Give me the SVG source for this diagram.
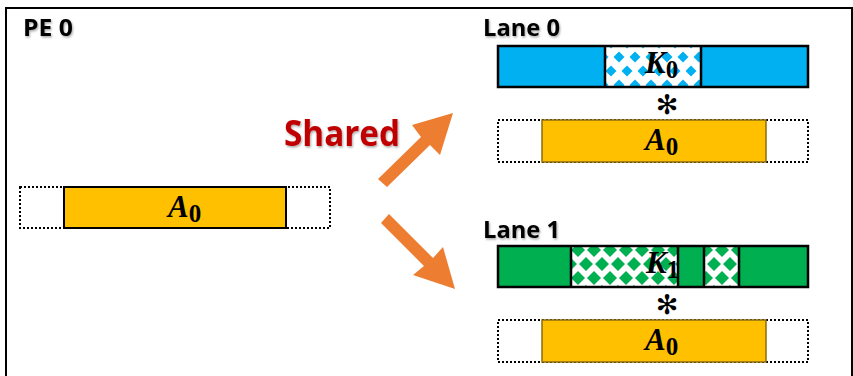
<svg xmlns="http://www.w3.org/2000/svg" width="853" height="376" viewBox="0 0 853 376">
  <style>
    .label { font-family: "Open Sans", "Liberation Sans", sans-serif; font-weight: bold; fill: #000; }
    .shared { font-family: "Open Sans", "Liberation Sans", sans-serif; font-weight: bold; fill: #C00000; }
    .math { font-family: "Liberation Serif", "DejaVu Serif", serif; font-weight: bold; font-style: italic; fill: #000; }
    .sub { font-style: normal; }
    .star { font-family: "DejaVu Sans", sans-serif; fill: #000; }
    .bar { stroke: #000; stroke-width: 2.5; }
    .slot { fill: none; stroke: #000; stroke-width: 2; stroke-dasharray: 2 2; }
    .a-main { fill: #FFC000; stroke: #000; stroke-width: 2; }
    .a-lane { fill: #FFC000; stroke: #8A6D10; stroke-width: 1.5; }
    .arrow { fill: #ED7D31; }
    .divider { stroke: #000; stroke-width: 2.5; }
  </style>
  <defs>
    <filter id="softShadow" x="-10%" y="-20%" width="130%" height="150%">
      <feDropShadow dx="1" dy="1.5" stdDeviation="1" flood-color="#000" flood-opacity="0.35"/>
    </filter>
    <!-- staggered diamond fills for the kernel slices -->
    <pattern id="dotsBlue" patternUnits="userSpaceOnUse" x="611" y="43" width="16" height="28">
      <rect width="16" height="28" fill="#fff"/>
      <path d="M8 8.5 L13.5 14 L8 19.5 L2.5 14 Z" fill="#00B0F0"/>
      <path d="M0 -5.5 L5.5 0 L0 5.5 L-5.5 0 Z M16 -5.5 L21.5 0 L16 5.5 L10.5 0 Z M0 22.5 L5.5 28 L0 33.5 L-5.5 28 Z M16 22.5 L21.5 28 L16 33.5 L10.5 28 Z" fill="#00B0F0"/>
    </pattern>
    <pattern id="dotsGreen" patternUnits="userSpaceOnUse" x="570" y="236" width="16" height="28">
      <rect width="16" height="28" fill="#fff"/>
      <path d="M8 7 L15 14 L8 21 L1 14 Z" fill="#00B050"/>
      <path d="M0 -7 L7 0 L0 7 L-7 0 Z M16 -7 L23 0 L16 7 L9 0 Z M0 21 L7 28 L0 35 L-7 28 Z M16 21 L23 28 L16 35 L9 28 Z" fill="#00B050"/>
    </pattern>
  </defs>

  <!-- processing element frame -->
  <rect x="6" y="8" width="846" height="380" fill="#fff" stroke="#000" stroke-width="2"/>

  <g id="pe-label">
    <text class="label" x="23" y="36" font-size="23" textLength="50" lengthAdjust="spacingAndGlyphs" filter="url(#softShadow)">PE 0</text>
  </g>

  <g id="source-a">
    <rect class="slot" x="20" y="187" width="310" height="41"/>
    <rect class="a-main" x="64" y="187" width="222" height="41"/>
    <text class="math" x="168" y="217" font-size="31">A<tspan class="sub" font-size="25" dy="5">0</tspan></text>
  </g>

  <g id="shared-label">
    <text class="shared" x="284" y="146" font-size="35" textLength="116" lengthAdjust="spacingAndGlyphs" filter="url(#softShadow)">Shared</text>
  </g>

  <g id="connectors">
    <!-- up-right arrow to lane 0 -->
    <polygon class="arrow" points="378,179 421,137 412,125 453,113 440,155 430,145 387,187"/>
    <!-- down-right arrow to lane 1 -->
    <polygon class="arrow" points="389,214 433,258 443,247 455,289 413,275 424,266 381,223"/>
  </g>

  <g id="lane0">
    <text class="label" x="483" y="36" font-size="23" textLength="77" lengthAdjust="spacingAndGlyphs" filter="url(#softShadow)">Lane 0</text>
    <rect x="498" y="46" width="310" height="41" fill="#00B0F0"/>
    <rect x="605" y="46" width="96" height="41" fill="url(#dotsBlue)"/>
    <rect class="bar" x="498" y="46" width="310" height="41" fill="none"/>
    <line class="divider" x1="605" y1="46" x2="605" y2="87"/>
    <line class="divider" x1="701" y1="46" x2="701" y2="87"/>
    <text class="math" x="645" y="73" font-size="31">K<tspan class="sub" font-size="25" dy="5">0</tspan></text>
    <text class="star" x="667" y="114" font-size="27" text-anchor="middle">✻</text>
    <rect class="slot" x="498" y="120" width="310" height="42"/>
    <rect class="a-lane" x="542" y="120" width="224" height="42"/>
    <text class="math" x="645" y="150" font-size="31">A<tspan class="sub" font-size="25" dy="5">0</tspan></text>
  </g>

  <g id="lane1">
    <text class="label" x="483" y="238" font-size="23" textLength="77" lengthAdjust="spacingAndGlyphs" filter="url(#softShadow)">Lane 1</text>
    <rect x="498" y="246" width="310" height="41" fill="#00B050"/>
    <rect x="571" y="246" width="107" height="41" fill="url(#dotsGreen)"/>
    <rect x="704" y="246" width="35" height="41" fill="url(#dotsGreen)"/>
    <rect class="bar" x="498" y="246" width="310" height="41" fill="none"/>
    <line class="divider" x1="571" y1="246" x2="571" y2="287"/>
    <line class="divider" x1="678" y1="246" x2="678" y2="287"/>
    <line class="divider" x1="704" y1="246" x2="704" y2="287"/>
    <line class="divider" x1="739" y1="246" x2="739" y2="287"/>
    <text class="math" x="646" y="273" font-size="31">K<tspan class="sub" font-size="25" dy="5">1</tspan></text>
    <text class="star" x="667" y="314" font-size="27" text-anchor="middle">✻</text>
    <rect class="slot" x="498" y="320" width="310" height="42"/>
    <rect class="a-lane" x="542" y="320" width="224" height="42"/>
    <text class="math" x="645" y="350" font-size="31">A<tspan class="sub" font-size="25" dy="5">0</tspan></text>
  </g>
</svg>
